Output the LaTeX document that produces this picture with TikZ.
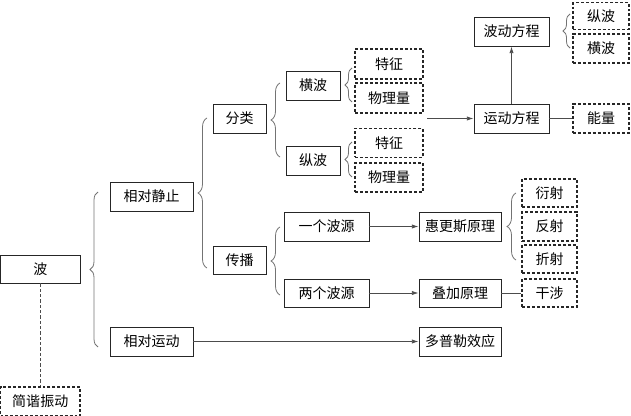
\documentclass[tikz,border=0pt]{standalone}
\usepackage{fontspec}
\setmainfont{Noto Sans CJK SC}
\usetikzlibrary{decorations.pathreplacing,arrows.meta}
\tikzset{
  sz/.style 2 args={minimum width={#1*0.75pt}, minimum height={#2*0.75pt}},
  solidbox/.style={draw=black!85, line width=0.7pt, inner sep=0pt, font=\fontsize{10.5pt}{12pt}\selectfont},
  dashbox/.style={draw=black!85, line width=0.9pt, dash pattern=on 2.2pt off 1.5pt, inner sep=0pt, font=\fontsize{10.5pt}{12pt}\selectfont},
  conn/.style={draw=black!70, line width=0.6pt},
  arr/.style={conn, -{Latex[length=5pt,width=3.2pt]}},
  bracestyle/.style={draw=black!55, line width=0.6pt, decorate, decoration={brace, amplitude=#1*0.75pt}},
}
\begin{document}
\begin{tikzpicture}[x=0.75pt,y=-0.75pt]
\useasboundingbox (0,0) rectangle (631,416);
% nodes
\node[solidbox, sz={79.5}{28}] (bo) at (40.25,269) {波};
\node[dashbox, sz={79.5}{29}] (jp) at (40.25,401.5) {简谐振动};
\node[solidbox, sz={83}{29}] (xdjz) at (151.5,196.5) {相对静止};
\node[solidbox, sz={83}{29}] (xdyd) at (151.5,341.5) {相对运动};
\node[solidbox, sz={53}{29}] (fl) at (239.5,118.5) {分类};
\node[solidbox, sz={53}{28}] (cb) at (239.5,260) {传播};
\node[solidbox, sz={54}{29}] (hb) at (313,85.5) {横波};
\node[solidbox, sz={54}{29}] (zb) at (313,160.5) {纵波};
\node[dashbox, sz={68}{30}] (tz1) at (389,64) {特征};
\node[dashbox, sz={68}{30}] (wl1) at (389,98) {物理量};
\node[dashbox, sz={68}{29}] (tz2) at (389,143) {特征};
\node[dashbox, sz={68}{29}] (wl2) at (389,177.5) {物理量};
\node[solidbox, sz={75}{29}] (ydfc) at (511.5,118.5) {运动方程};
\node[solidbox, sz={75}{29}] (bdfc) at (511.5,31.5) {波动方程};
\node[dashbox, sz={56}{27}] (zb2) at (601,16) {纵波};
\node[dashbox, sz={56}{29}] (hb2) at (601,48.5) {横波};
\node[dashbox, sz={56}{29}] (nl) at (601,118.5) {能量};
\node[solidbox, sz={85}{29}] (ygby) at (326.5,226.5) {一个波源};
\node[solidbox, sz={85}{28}] (lgby) at (326.5,293) {两个波源};
\node[solidbox, sz={82}{29}] (hgs) at (460,226.5) {惠更斯原理};
\node[solidbox, sz={82}{28}] (djyl) at (460,293) {叠加原理};
\node[solidbox, sz={82}{29}] (dpl) at (460,341.5) {多普勒效应};
\node[dashbox, sz={55}{28}] (ys) at (549.5,193) {衍射};
\node[dashbox, sz={55}{29}] (fs) at (549.5,226.5) {反射};
\node[dashbox, sz={55}{28}] (zs) at (549.5,259) {折射};
\node[dashbox, sz={55}{28}] (gs) at (549.5,293) {干涉};
\coordinate (a0) at (427,118.5);
% connectors
\draw[conn, dashed, dash pattern=on 2.5pt off 1.5pt] (bo.south) -- (jp.north);
\draw[arr] (xdyd.east) -- (dpl.west);
\draw[arr] (ygby.east) -- (hgs.west);
\draw[arr] (lgby.east) -- (djyl.west);
\draw[conn] (djyl.east) -- (gs.west);
\draw[conn] (ydfc.east) -- (nl.west);
\draw[arr] (ydfc.north) -- (bdfc.south);
\draw[arr] (a0) -- (ydfc.west);
% braces
\draw[bracestyle=8] (98,347) -- (98,192);
\draw[bracestyle=9] (207,268) -- (207,118);
\draw[bracestyle=9] (280,157) -- (280,83);
\draw[bracestyle=9] (280,295) -- (280,227);
\draw[bracestyle=7] (352,102) -- (352,68);
\draw[bracestyle=7] (352,177) -- (352,142);
\draw[bracestyle=9] (516,260) -- (516,193);
\draw[bracestyle=7] (570,48) -- (570,14);
\end{tikzpicture}
\end{document}
